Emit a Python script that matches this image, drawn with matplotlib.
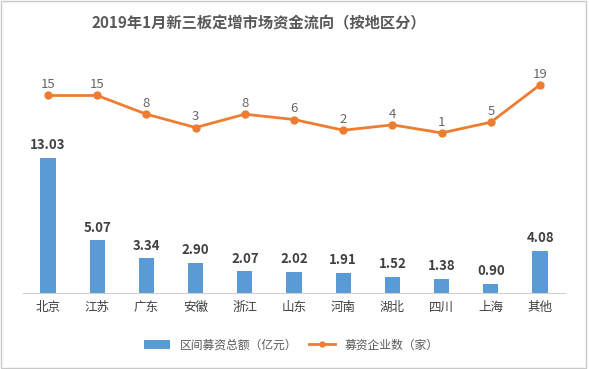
import numpy as np
import matplotlib.pyplot as plt
from matplotlib.patches import Rectangle

plt.rcParams['font.family'] = ['Noto Sans CJK SC', 'DejaVu Sans']

regions = ['北京', '江苏', '广东', '安徽', '浙江', '山东', '河南', '湖北', '四川', '上海', '其他']
amount = [13.03, 5.07, 3.34, 2.90, 2.07, 2.02, 1.91, 1.52, 1.38, 0.90, 4.08]
companies = [15, 15, 8, 3, 8, 6, 2, 4, 1, 5, 19]

bar_color = '#5B9BD5'
line_color = '#ED7D31'
text_gray = '#595959'

fig = plt.figure(figsize=(5.89, 3.69), dpi=100)
fig.patches.append(Rectangle((0.002, 0.003), 0.993, 0.994, transform=fig.transFigure,
                             fill=False, edgecolor='#c8c8c8', linewidth=1))

ax = fig.add_axes([0.0397, 0.206, 0.919, 0.591])
x = np.arange(len(regions))
bars = ax.bar(x, amount, width=0.31, color=bar_color, zorder=2)
ax.set_xlim(-0.5, len(regions) - 0.5)
ax.set_ylim(0, 21.0)
for xi, v in zip(x, amount):
    ax.text(xi, v + 0.55, f'{v:.2f}', ha='center', va='bottom', fontsize=9.5,
            fontweight='bold', color='#404040')

ax.set_yticks([])
ax.set_xticks(x)
ax.set_xticklabels(regions, fontsize=9, color='#404040')
ax.tick_params(axis='x', length=0, pad=6)
for s in ['top', 'right', 'left']:
    ax.spines[s].set_visible(False)
ax.spines['bottom'].set_color('#d0d0d0')

ax2 = ax.twinx()
ax2.plot(x, companies, color=line_color, linewidth=2, marker='o', markersize=5, zorder=3)
ax2.set_ylim(-58.9, 22.7)
ax2.set_yticks([])
for s in ['top', 'right', 'left', 'bottom']:
    ax2.spines[s].set_visible(False)
for xi, v in zip(x, companies):
    ax2.text(xi, v + 1.6, str(v), ha='center', va='bottom', fontsize=9.5, color='#666666')

fig.text(0.44, 0.937, '2019年1月新三板定增市场资金流向（按地区分）', ha='center', va='center',
         fontsize=11, fontweight='bold', color=text_gray)

handles = [bars, ax2.lines[0]]
fig.legend(handles, ['区间募资总额（亿元）', '募资企业数（家）'], loc='center',
           bbox_to_anchor=(0.495, 0.065), ncol=2, frameon=False, fontsize=8.5,
           labelcolor=text_gray, handlelength=2.2, columnspacing=1.0, markerscale=0.7)

fig.savefig('out.png', dpi=100)
